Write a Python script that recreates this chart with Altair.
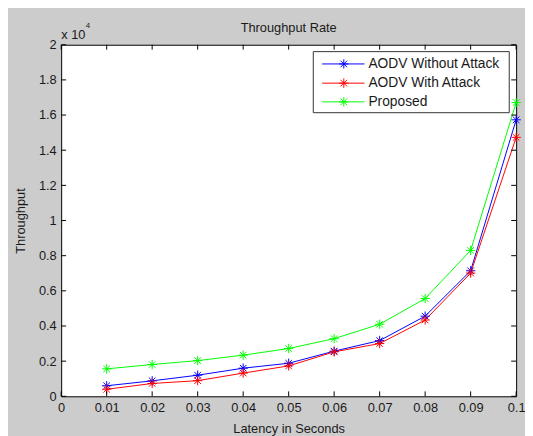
import altair as alt
import pandas as pd

# ---- data ----
latency = [0.01, 0.02, 0.03, 0.04, 0.05, 0.06, 0.07, 0.08, 0.09, 0.1]
aodv_without = [600, 880, 1200, 1600, 1880, 2570, 3170, 4560, 7140, 15730]
aodv_with = [400, 730, 890, 1320, 1730, 2530, 3000, 4340, 7010, 14730]
proposed = [1560, 1810, 2030, 2340, 2720, 3280, 4100, 5560, 8300, 16710]

series_names = ["AODV Without Attack", "AODV With Attack", "Proposed"]
series_colors = ["#0000ff", "#ff0000", "#00ff00"]

x_ticks = [0, 0.01, 0.02, 0.03, 0.04, 0.05, 0.06, 0.07, 0.08, 0.09, 0.1]
y_ticks = [0, 2000, 4000, 6000, 8000, 10000, 12000, 14000, 16000, 18000, 20000]

chart_title = "Throughput Rate"

W, H = 462, 357
FONT = "Liberation Sans"
TXT = "#1a1a1a"
STAR = "M-1,0L1,0M0,-1L0,1M-0.7,-0.7L0.7,0.7M-0.7,0.7L0.7,-0.7"

rows = []
for name, vals in zip(series_names, [aodv_without, aodv_with, proposed]):
    for x, y in zip(latency, vals):
        rows.append({"latency": x, "throughput": y, "series": name})
df = pd.DataFrame(rows)

xs = alt.Scale(domain=[0, 0.1], nice=False, zero=False)
ys = alt.Scale(domain=[0, 20000], nice=False)
cs = alt.Scale(domain=series_names, range=series_colors)

x_axis = alt.Axis(values=x_ticks, labelExpr="format(datum.value, '~g')", tickSize=0,
                  domain=False, grid=False, labelFlush=False, labelOverlap=False,
                  labelFont=FONT, labelFontSize=13, labelColor=TXT, labelPadding=5,
                  title="Latency in Seconds", titleFont=FONT, titleFontSize=13,
                  titleFontWeight="normal", titleColor=TXT, titlePadding=9)
y_axis = alt.Axis(values=y_ticks, labelExpr="format(datum.value / 10000, '~g')", tickSize=0,
                  domain=False, grid=False, labelFlush=False, labelOverlap=False,
                  labelFont=FONT, labelFontSize=13, labelColor=TXT, labelPadding=5,
                  title="Throughput", titleFont=FONT, titleFontSize=13,
                  titleFontWeight="normal", titleColor=TXT, titlePadding=11)

base = alt.Chart(df).encode(
    x=alt.X("latency:Q", scale=xs, axis=x_axis, title="Latency in Seconds"),
    y=alt.Y("throughput:Q", scale=ys, axis=y_axis, title="Throughput"),
    color=alt.Color("series:N", scale=cs, legend=None),
    detail="series:N",
)
lines = base.mark_line(strokeWidth=1)
points = base.mark_point(shape=STAR, size=90, filled=False, strokeWidth=1, opacity=1)

xt = pd.DataFrame({"v": x_ticks})
yt = pd.DataFrame({"v": y_ticks})
tick_col = "black"
bx = alt.X("v:Q", scale=xs, axis=x_axis, title="Latency in Seconds")
by = alt.Y("v:Q", scale=ys, axis=y_axis, title="Throughput")
bottom_ticks = alt.Chart(xt).mark_rule(color=tick_col).encode(
    x=bx, y=alt.value(H), y2=alt.value(H - 5))
top_ticks = alt.Chart(xt).mark_rule(color=tick_col).encode(
    x=bx, y=alt.value(0), y2=alt.value(5))
left_ticks = alt.Chart(yt).mark_rule(color=tick_col).encode(
    y=by, x=alt.value(0), x2=alt.value(5))
right_ticks = alt.Chart(yt).mark_rule(color=tick_col).encode(
    y=by, x=alt.value(W), x2=alt.value(W - 5))

one = pd.DataFrame({"a": [0]})
title_text = alt.Chart(one).mark_text(align="center", baseline="alphabetic", font=FONT,
                                      fontSize=13, color=TXT).encode(
    x=alt.value(W / 2), y=alt.value(-13), text=alt.value(chart_title))
exp_main = alt.Chart(one).mark_text(align="left", baseline="alphabetic", font=FONT,
                                    fontSize=13, color=TXT).encode(
    x=alt.value(0), y=alt.value(-6), text=alt.value("x 10"))
exp_sup = alt.Chart(one).mark_text(align="left", baseline="alphabetic", font=FONT,
                                   fontSize=8, color=TXT).encode(
    x=alt.value(25), y=alt.value(-17), text=alt.value("4"))

# legend box
leg_layers = [alt.Chart(one).mark_rect(fill="white", stroke="#333333", strokeWidth=1).encode(
    x=alt.value(256), x2=alt.value(455), y=alt.value(7), y2=alt.value(69))]
row_y = [19.5, 39, 58]
for name, col, ry in zip(series_names, series_colors, row_y):
    leg_layers.append(alt.Chart(one).mark_rule(color=col, strokeWidth=1).encode(
        x=alt.value(265), x2=alt.value(308), y=alt.value(ry)))
    leg_layers.append(alt.Chart(one).mark_point(shape=STAR, size=90, filled=False,
                                               color=col, strokeWidth=1, opacity=1).encode(
        x=alt.value(287), y=alt.value(ry)))
    leg_layers.append(alt.Chart(one).mark_text(align="left", baseline="middle", font=FONT,
                                              fontSize=14, color=TXT).encode(
        x=alt.value(312), y=alt.value(ry), text=alt.value(name)))

chart = alt.layer(
    lines, points, bottom_ticks, top_ticks, left_ticks, right_ticks,
    title_text, exp_main, exp_sup, *leg_layers
).properties(
    width=W, height=H,
    autosize=alt.AutoSizeParams(type="none"),
    padding={"left": 54, "top": 34, "right": 9, "bottom": 37},
    background="#cccccc",
).configure_view(fill="white", stroke="black", strokeWidth=1)

chart.save("out.html", embed_options={"renderer": "svg", "actions": False})
